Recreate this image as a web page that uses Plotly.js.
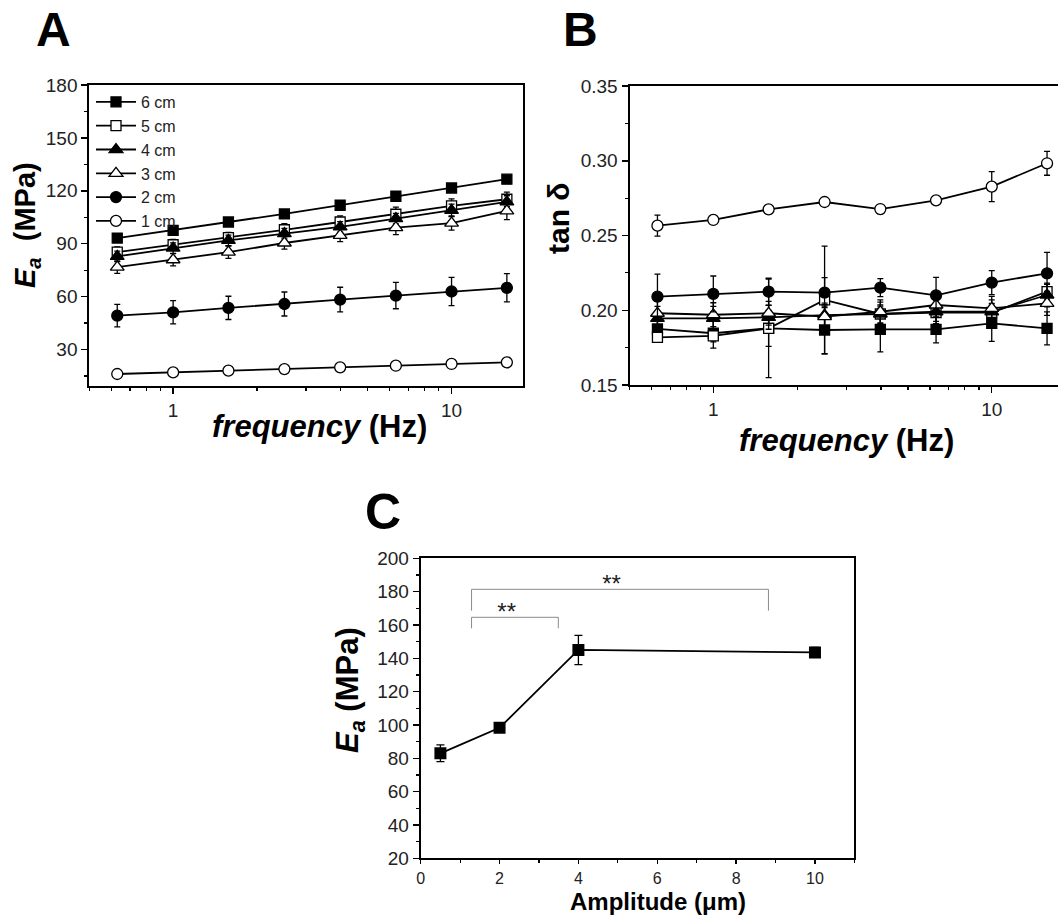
<!DOCTYPE html>
<html>
<head>
<meta charset="utf-8">
<script src="https://cdn.plot.ly/plotly-3.0.1.min.js"></script>
<style>html,body{margin:0;padding:0;background:#fff;}#chart{width:1058px;height:918px;}</style>
</head>
<body>
<div id="chart"></div>
<script>
// ---- Data ----
const freq = [0.63, 1.0, 1.58, 2.51, 3.98, 6.31, 10.0, 15.8];
const seriesNames = ["6 cm", "5 cm", "4 cm", "3 cm", "2 cm", "1 cm"];

const ea6 = [93.2, 97.6, 102.3, 106.9, 111.8, 116.9, 121.6, 126.6];
const ea5 = [85.2, 89.4, 93.4, 97.9, 102.3, 106.7, 111.4, 115.2];
const ea4 = [82.8, 87.5, 91.9, 95.7, 99.5, 104.2, 108.9, 113.7];
const ea3 = [76.7, 80.9, 85.2, 90.4, 94.7, 99.1, 101.7, 108.6];
const ea2 = [49.2, 51.1, 53.6, 55.8, 58.3, 60.6, 62.9, 65.0];
const ea1 = [16.1, 17.0, 18.0, 18.9, 19.9, 20.8, 21.8, 22.7];
const eaErr6 = [1.5, 1.5, 1.5, 1.5, 1.5, 1.5, 1.5, 1.5];
const eaErr5 = [3, 3, 3, 3.5, 3.5, 4, 4, 4];
const eaErr4 = [3, 3, 3, 3, 3, 3, 3.5, 3.5];
const eaErr3 = [3.5, 3.5, 3.5, 3.5, 3.5, 4, 4, 5];
const eaErr2 = [6.4, 6.6, 6.6, 6.8, 7, 7.5, 8, 8];
const eaErr1 = [1.5, 1.5, 1.5, 1.5, 1.5, 1.5, 1.5, 1.5];

const tan6 = [0.1875, 0.1846, 0.1879, 0.1868, 0.1872, 0.1872, 0.1912, 0.1879];
const tan5 = [0.1819, 0.1828, 0.1879, 0.2069, 0.1975, 0.1985, 0.1985, 0.2124];
const tan4 = [0.1946, 0.1946, 0.1953, 0.1968, 0.1975, 0.1990, 0.1990, 0.2102];
const tan3 = [0.1980, 0.1970, 0.1980, 0.1957, 0.1990, 0.2035, 0.2013, 0.2046];
const tan2 = [0.2091, 0.2109, 0.2124, 0.2118, 0.2151, 0.2100, 0.2185, 0.2247];
const tan1 = [0.2566, 0.2604, 0.2675, 0.2724, 0.2677, 0.2735, 0.2827, 0.2983];
const tanErr6 = [0.008, 0.010, 0.012, 0.016, 0.015, 0.009, 0.012, 0.011];
const tanErr5 = [0.003, 0.004, 0.033, 0.036, 0.006, 0.006, 0.006, 0.005];
const tanErr4 = [0.008, 0.008, 0.008, 0.008, 0.008, 0.008, 0.008, 0.008];
const tanErr3 = [0.008, 0.008, 0.008, 0.008, 0.008, 0.008, 0.008, 0.008];
const tanErr2 = [0.015, 0.012, 0.009, 0.010, 0.006, 0.012, 0.008, 0.014];
const tanErr1 = [0.007, 0.003, 0.003, 0.002, 0.003, 0.003, 0.010, 0.008];

const amp = [0.5, 2, 4, 10];
const eaAmp = [83.0, 98.3, 145.0, 143.5];
const eaAmpErr = [5, 2, 8.8, 3];

// significance brackets (data coordinates) and labels
const sigInnerX = [1.29, 1.29, 3.49, 3.49];
const sigInnerY = [158, 164.6, 164.6, 158];
const sigOuterX = [1.29, 1.29, 8.82, 8.82];
const sigOuterY = [168.6, 181.4, 181.4, 168.6];
const sigLabelX = [2.18, 4.84];
const sigLabelY = [166.5, 183.5];
const sigLabels = ["**", "**"];

// ---- Styling ----
const FONT = "Liberation Sans, Arial, Helvetica, sans-serif";
const symbols = ["square", "square", "triangle-up", "triangle-up", "circle", "circle"];
const fills = ["black", "white", "black", "white", "black", "white"];
const sizes = [10, 10, 12, 12, 11, 11];

const eaSets = [ea6, ea5, ea4, ea3, ea2, ea1];
const eaErrSets = [eaErr6, eaErr5, eaErr4, eaErr3, eaErr2, eaErr1];
const tanSets = [tan6, tan5, tan4, tan3, tan2, tan1];
const tanErrSets = [tanErr6, tanErr5, tanErr4, tanErr3, tanErr2, tanErr1];

const traces = [];
function mk(xs, ys, errs, i, xa, ya, showLeg) {
  return {
    x: xs, y: ys, type: "scatter", mode: "lines+markers",
    name: seriesNames[i], xaxis: xa, yaxis: ya, showlegend: showLeg,
    line: {color: "black", width: 1.8},
    marker: {symbol: symbols[i], size: sizes[i], color: fills[i], line: {color: "black", width: 1.3}},
    error_y: {type: "data", array: errs, visible: true, color: "black", thickness: 1.3, width: 3}
  };
}
for (let i = 0; i < 6; i++) traces.push(mk(freq, eaSets[i], eaErrSets[i], i, "x", "y", true));
for (let i = 0; i < 6; i++) traces.push(mk(freq, tanSets[i], tanErrSets[i], i, "x2", "y2", false));

traces.push({x: sigInnerX, y: sigInnerY, xaxis: "x3", yaxis: "y3", type: "scatter", mode: "lines",
  line: {color: "#8a8a8a", width: 1}, showlegend: false, hoverinfo: "skip"});
traces.push({x: sigOuterX, y: sigOuterY, xaxis: "x3", yaxis: "y3", type: "scatter", mode: "lines",
  line: {color: "#8a8a8a", width: 1}, showlegend: false, hoverinfo: "skip"});
traces.push({x: sigLabelX, y: sigLabelY, xaxis: "x3", yaxis: "y3", type: "scatter", mode: "text",
  text: sigLabels, textposition: "middle center", textfont: {family: FONT, size: 24, color: "#222"},
  showlegend: false, hoverinfo: "skip"});
traces.push({
  x: amp, y: eaAmp, xaxis: "x3", yaxis: "y3", type: "scatter", mode: "lines+markers", showlegend: false,
  line: {color: "black", width: 1.8},
  marker: {symbol: "square", size: 12, color: "black"},
  error_y: {type: "data", array: eaAmpErr, visible: true, color: "black", thickness: 1.3, width: 4}
});

const W = 1058, H = 918;
function dx(a, b) { return [a / W, Math.min(1, b / W)]; }
function dy(top, bottom) { return [1 - bottom / H, 1 - top / H]; }
function px(x) { return x / W; }
function py(y) { return 1 - y / H; }

const axBase = {
  showline: true, linecolor: "black", linewidth: 2, mirror: true,
  ticks: "outside", ticklen: 6, tickwidth: 1.5, tickcolor: "black",
  showgrid: false, zeroline: false,
  tickfont: {family: FONT, size: 19, color: "#222"}
};
const minorBase = {ticks: "outside", ticklen: 3, tickwidth: 1.2, tickcolor: "black"};
const logMinor = Object.assign({}, minorBase, {tickvals: [0.5, 0.6, 0.7, 0.8, 0.9, 2, 3, 4, 5, 6, 7, 8, 9, 20]});

function title(text, x, y, size, angle) {
  return {text: text, xref: "paper", yref: "paper", x: px(x), y: py(y), xanchor: "center", yanchor: "middle",
    showarrow: false, textangle: angle || 0, font: {family: FONT, size: size, color: "black"}};
}

const layout = {
  width: W, height: H,
  margin: {l: 0, r: 0, t: 0, b: 0},
  paper_bgcolor: "white", plot_bgcolor: "white",
  font: {family: FONT, color: "black"},
  showlegend: true,
  legend: {x: px(91), y: py(85), xanchor: "left", yanchor: "top",
    font: {family: FONT, size: 16, color: "#222"}, bgcolor: "rgba(0,0,0,0)", tracegroupgap: 0,
    itemwidth: 40},
  xaxis: Object.assign({}, axBase, {
    domain: dx(89.3, 523.3), anchor: "y", type: "log",
    range: [Math.log10(0.5), Math.log10(18.1)], tickvals: [1, 10], ticktext: ["1", "10"],
    minor: logMinor
  }),
  yaxis: Object.assign({}, axBase, {
    domain: dy(85, 386), anchor: "x", range: [9.3, 180], tick0: 0, dtick: 30,
    minor: Object.assign({}, minorBase, {dtick: 15, tick0: 0})
  }),
  xaxis2: Object.assign({}, axBase, {
    domain: dx(629.5, 1058), anchor: "y2", type: "log",
    range: [Math.log10(0.5), 1.238], tickvals: [1, 10], ticktext: ["1", "10"],
    minor: logMinor
  }),
  yaxis2: Object.assign({}, axBase, {
    domain: dy(86, 385), anchor: "x2", range: [0.15, 0.35], tick0: 0, dtick: 0.05, tickformat: ".2f",
    mirror: false,
    minor: Object.assign({}, minorBase, {dtick: 0.025, tick0: 0})
  }),
  xaxis3: Object.assign({}, axBase, {
    domain: dx(420.7, 854.4), anchor: "y3", range: [0, 11], tick0: 0, dtick: 2, ticklen: 4,
    tickfont: {family: FONT, size: 16, color: "#222"},
    minor: Object.assign({}, minorBase, {dtick: 1, tick0: 0})
  }),
  yaxis3: Object.assign({}, axBase, {
    domain: dy(558.3, 858.3), anchor: "x3", range: [20, 200], tick0: 0, dtick: 20,
    minor: Object.assign({}, minorBase, {dtick: 10, tick0: 0})
  }),
  annotations: [
    title("<b>A</b>", 53, 30, 48),
    title("<b>B</b>", 580, 30, 48),
    title("<b>C</b>", 383, 512, 50),
    title("<b><i>frequency</i> (Hz)</b>", 319, 426, 31),
    title("<b><i>frequency</i> (Hz)</b>", 846, 440, 31),
    title("<b>Amplitude (μm)</b>", 658, 901.5, 24),
    title("<b><i>E</i><sub><i>a</i></sub>  (MPa)</b>", 27, 225, 29, -90),
    title("<b>tan δ</b>", 559, 218, 30, -90),
    title("<b><i>E</i><sub><i>a</i></sub> (MPa)</b>", 350, 690, 31, -90)
  ]
};

Plotly.newPlot("chart", traces, layout, {displayModeBar: false, staticPlot: true});
</script>
</body>
</html>
